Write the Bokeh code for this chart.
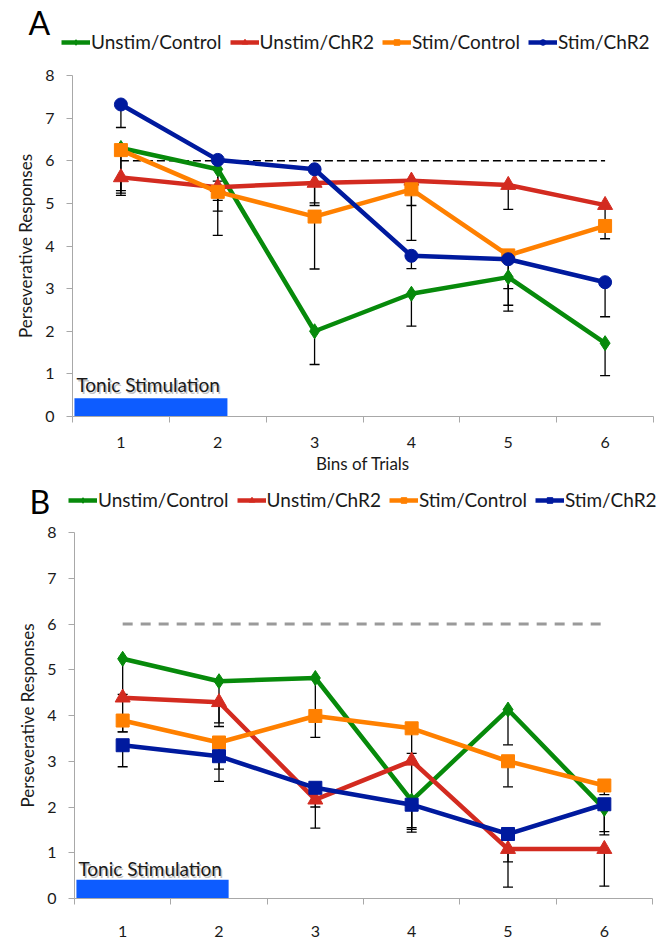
from bokeh.plotting import figure
from bokeh.layouts import column
from bokeh.models import (Range1d, FixedTicker, Legend, LegendItem, Label,
                          Whisker, ColumnDataSource, TeeHead)
from bokeh.embed import file_html
from bokeh.resources import INLINE

# ---------------- data ----------------
bins = [1, 2, 3, 4, 5, 6]
series_names = ["Unstim/Control", "Unstim/ChR2", "Stim/Control", "Stim/ChR2"]
threshold = 6

# Panel A
a_unstim_control = [6.30, 5.80, 2.00, 2.88, 3.27, 1.72]
a_unstim_chr2 = [5.61, 5.38, 5.48, 5.53, 5.43, 4.96]
a_stim_control = [6.25, 5.27, 4.69, 5.33, 3.78, 4.47]
a_stim_chr2 = [7.32, 6.02, 5.80, 3.77, 3.69, 3.15]
a_err_unstim_control = [1.06, 0.98, 0.78, 0.76, 0.80, 0.76]
a_err_unstim_chr2 = [0.42, 0.31, 0.47, 0.58, 0.57, 0.40]
a_err_stim_control = [0.95, 1.02, 1.23, 1.20, 0.78, 0.30]
a_err_stim_chr2 = [0.54, 0.50, 0.85, 0.30, 1.08, 0.81]

# Panel B
b_unstim_control = [5.24, 4.75, 4.82, 2.14, 4.13, 1.96]
b_unstim_chr2 = [4.39, 4.29, 2.16, 3.01, 1.08, 1.08]
b_stim_control = [3.89, 3.41, 3.99, 3.72, 3.00, 2.47]
b_stim_chr2 = [3.35, 3.11, 2.42, 2.05, 1.41, 2.06]
b_err_unstim_control = [0.78, 0.99, 0.80, 0.63, 0.77, 0.50]
b_err_unstim_chr2 = [0.75, 0.45, 0.62, 1.56, 0.83, 0.81]
b_err_stim_control = [0.25, 0.58, 0.47, 0.55, 0.56, 0.20]
b_err_stim_chr2 = [0.47, 0.55, 0.42, 0.50, 0.61, 0.67]

stim_period = (0.52, 2.10)   # bins covered by tonic stimulation bar

COLORS = ["#078a0b", "#d32b20", "#ff8000", "#001a9e"]
FONT = "Lato"
AXIS_GRAY = "#a8a8a8"
TEXT = "#1a1a1a"


def add_series(p, values, markers):
    rends = []
    for vals, color, marker in zip(values, COLORS, markers):
        l = p.line(bins, vals, line_color=color, line_width=4.5)
        size = 15 if marker in ("diamond", "triangle") else 13
        s = p.scatter(bins, vals, marker=marker, size=size, fill_color=color,
                      line_color=color)
        rends.append((l, s))
    return rends


def make_header(letter, values, markers, height, letter_x, letter_y, legend_x, legend_y):
    # header strip holding the panel letter and the legend
    base = 100  # series drawn here lie below this range, so only the legend shows them
    h = figure(width=667, height=height, output_backend="svg", toolbar_location=None,
               x_range=Range1d(0, 667), y_range=Range1d(base, base + height),
               min_border=0, min_border_left=0, min_border_right=0,
               min_border_top=0, min_border_bottom=0,
               x_axis_type=None, y_axis_type=None, frame_align=False)
    h.outline_line_color = None
    h.xgrid.visible = False
    h.ygrid.visible = False
    rends = add_series(h, values, markers)
    items = [LegendItem(label=n, renderers=[l, s]) for n, (l, s) in zip(series_names, rends)]
    legend = Legend(items=items, orientation="horizontal", location=(legend_x, legend_y),
                    glyph_width=29, glyph_height=14, label_standoff=1, spacing=8,
                    padding=0, margin=0, border_line_color=None,
                    background_fill_alpha=0, label_text_font=FONT,
                    label_text_font_size="19px", label_text_color=TEXT,
                    label_height=20)
    h.add_layout(legend)
    h.add_layout(Label(x=letter_x, y=base + letter_y, text=letter, text_font=FONT,
                       text_font_size="32px", text_color="black",
                       text_baseline="middle"))
    return h


def make_panel(values, errors, markers, height, top, bottom, left, right,
               label_standoff, xlabel, dash_color, dash_width, dash_pattern,
               bar_top, text_y):
    p = figure(width=667, height=height, output_backend="svg", toolbar_location=None,
               x_range=Range1d(0.5, 6.5), y_range=Range1d(0, 8),
               min_border_top=top, min_border_bottom=bottom,
               min_border_left=left, min_border_right=right, frame_align=False)
    p.outline_line_color = None
    p.xgrid.visible = False
    p.ygrid.visible = False

    ya = p.yaxis[0]
    ya.ticker = FixedTicker(ticks=list(range(9)))
    ya.axis_line_color = AXIS_GRAY
    ya.major_tick_line_color = AXIS_GRAY
    ya.major_tick_out = 6
    ya.major_tick_in = 0
    ya.minor_tick_line_color = None
    ya.major_label_text_font = FONT
    ya.major_label_text_font_size = "16px"
    ya.major_label_text_color = TEXT
    ya.major_label_standoff = 12
    ya.axis_label = "Perseverative Responses"
    ya.axis_label_text_font = FONT
    ya.axis_label_text_font_size = "17px"
    ya.axis_label_text_font_style = "normal"
    ya.axis_label_text_color = TEXT
    ya.axis_label_standoff = 6

    xa = p.xaxis[0]
    xa.ticker = FixedTicker(ticks=bins, minor_ticks=[b - 0.5 for b in bins] + [bins[-1] + 0.5])
    xa.axis_line_color = AXIS_GRAY
    xa.major_tick_line_color = None
    xa.major_tick_out = 0
    xa.major_tick_in = 0
    xa.minor_tick_line_color = AXIS_GRAY
    xa.minor_tick_out = 6
    xa.minor_tick_in = 0
    xa.major_label_text_font = FONT
    xa.major_label_text_font_size = "16px"
    xa.major_label_text_color = TEXT
    xa.major_label_standoff = label_standoff
    if xlabel:
        xa.axis_label = xlabel
        xa.axis_label_text_font = FONT
        xa.axis_label_text_font_size = "17px"
        xa.axis_label_text_font_style = "normal"
        xa.axis_label_text_color = TEXT
        xa.axis_label_standoff = 2

    # tonic stimulation bar
    p.quad(left=[stim_period[0]], right=[stim_period[1]], bottom=[0], top=[bar_top],
           fill_color="#0d5cff", line_color=None)
    p.add_layout(Label(x=stim_period[0], y=text_y, x_offset=3.5, y_offset=-1.5,
                       text="Tonic Stimulation", text_font=FONT, text_font_size="19px",
                       text_color="#9a9a9a", text_alpha=0.6, text_baseline="middle"))
    p.add_layout(Label(x=stim_period[0], y=text_y, x_offset=2, text="Tonic Stimulation",
                       text_font=FONT, text_font_size="19px", text_color=TEXT,
                       text_baseline="middle"))

    # dashed reference line
    p.line([bins[0], bins[-1]], [threshold, threshold], line_color=dash_color,
           line_width=dash_width, line_dash=dash_pattern)

    # error bars (downward only)
    for vals, errs in zip(values, errors):
        src = ColumnDataSource(dict(x=bins, upper=vals,
                                    lower=[v - e for v, e in zip(vals, errs)]))
        p.add_layout(Whisker(source=src, base="x", upper="upper", lower="lower",
                             line_color="black", line_width=1.3, upper_head=None,
                             lower_head=TeeHead(size=10, line_color="black", line_width=1.3),
                             level="underlay"))

    add_series(p, values, markers)
    return p


A_vals = [a_unstim_control, a_unstim_chr2, a_stim_control, a_stim_chr2]
A_errs = [a_err_unstim_control, a_err_unstim_chr2, a_err_stim_control, a_err_stim_chr2]
A_mk = ["diamond", "triangle", "square", "circle"]
B_vals = [b_unstim_control, b_unstim_chr2, b_stim_control, b_stim_chr2]
B_errs = [b_err_unstim_control, b_err_unstim_chr2, b_err_stim_control, b_err_stim_chr2]
B_mk = ["diamond", "triangle", "square", "square"]

ha = make_header("A", A_vals, A_mk, height=60, letter_x=28, letter_y=38.5,
                 legend_x=61, legend_y=7)
pa = make_panel(A_vals, A_errs, A_mk, height=416, top=15, bottom=57, left=72, right=14,
                label_standoff=14, xlabel="Bins of Trials",
                dash_color="black", dash_width=1.3, dash_pattern="8 4",
                bar_top=0.43, text_y=0.75)
hb = make_header("B", B_vals, B_mk, height=46, letter_x=29, letter_y=21,
                 legend_x=68, legend_y=11)
pb = make_panel(B_vals, B_errs, B_mk, height=417, top=10, bottom=39, left=74, right=15,
                label_standoff=21, xlabel=None,
                dash_color="#9a9a9a", dash_width=3, dash_pattern="10 8",
                bar_top=0.41, text_y=0.65)

layout = column(ha, pa, hb, pb, spacing=0)
open("out.html", "w").write(file_html(layout, INLINE))
